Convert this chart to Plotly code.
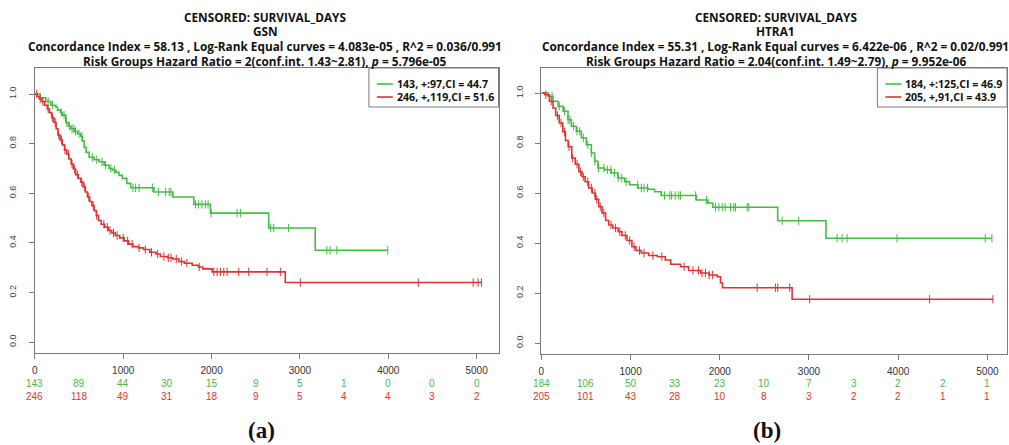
import numpy as np
import plotly.graph_objects as go

W, H = 1009, 445

# ---------------- data ----------------
# Panel (a) GSN
a_green_t = [0, 60, 124, 181, 237, 256, 290, 312, 350, 380, 407, 445, 482, 519, 538, 557, 580, 614, 670, 726,
             783, 839, 877, 915, 952, 990, 1040, 1084, 1348, 1562, 1799, 1987, 2646, 3173]
a_green_s = [1.0, 0.985, 0.97, 0.955, 0.948, 0.935, 0.925, 0.915, 0.885, 0.87, 0.86, 0.85, 0.84, 0.83, 0.81, 0.785,
             0.765, 0.745, 0.735, 0.727, 0.713, 0.70, 0.694, 0.685, 0.672, 0.66, 0.64, 0.622, 0.605, 0.585, 0.555,
             0.52, 0.46, 0.37]
a_green_end = 3994
a_green_cens = [150, 200, 300, 330, 360, 390, 420, 440, 460, 500, 530, 650, 700, 760, 800, 860, 900, 1110, 1140,
                1180, 1330, 1400, 1480, 1520, 1540, 1818, 1850, 1890, 1930, 1960, 1995, 2288, 2326, 2665, 2703,
                2872, 3305, 3342, 3418, 3994]

a_red_t = [0, 25, 50, 80, 110, 140, 165, 190, 215, 240, 260, 285, 310, 335, 360, 385, 410, 435, 460, 490, 520,
           545, 570, 595, 620, 645, 670, 695, 720, 750, 790, 830, 870, 910, 960, 1010, 1060, 1110, 1170, 1230,
           1300, 1370, 1420, 1500, 1560, 1630, 1690, 1780, 1850, 1900, 2006, 2834]
a_red_s = [1.0, 0.99, 0.98, 0.97, 0.955, 0.94, 0.925, 0.905, 0.885, 0.86, 0.835, 0.815, 0.795, 0.775, 0.757,
           0.738, 0.718, 0.698, 0.675, 0.66, 0.645, 0.626, 0.605, 0.585, 0.567, 0.55, 0.53, 0.51, 0.49, 0.475,
           0.463, 0.45, 0.44, 0.43, 0.42, 0.408, 0.395, 0.385, 0.38, 0.373, 0.362, 0.355, 0.345, 0.34, 0.335,
           0.325, 0.318, 0.31, 0.303, 0.295, 0.283, 0.24]
a_red_end = 5055
a_red_cens = [20, 60, 90, 150, 200, 230, 270, 300, 340, 380, 420, 450, 480, 530, 560, 610, 660, 700, 780, 820,
              850, 890, 930, 1000, 1050, 1100, 1180, 1250, 1320, 1390, 1460, 1510, 1540, 1600, 1660, 1720, 1860,
              2025, 2062, 2100, 2138, 2176, 2307, 2420, 2627, 2778, 3004, 4340, 4961, 5017, 5055]

# Panel (b) HTRA1
b_green_t = [0, 75, 131, 187, 243, 298, 336, 392, 448, 504, 560, 597, 634, 709, 784, 858, 933, 989, 1082, 1194,
             1269, 1343, 1735, 1866, 1921, 2649, 3190]
b_green_s = [1.0, 0.987, 0.967, 0.947, 0.927, 0.893, 0.867, 0.847, 0.82, 0.793, 0.76, 0.727, 0.70, 0.693, 0.68,
             0.66, 0.645, 0.633, 0.62, 0.615, 0.605, 0.59, 0.572, 0.56, 0.543, 0.489, 0.419]
b_green_end = 5051
b_green_cens = [120, 200, 260, 300, 320, 360, 400, 430, 470, 520, 560, 600, 640, 700, 740, 780, 820, 860, 900,
                950, 1080, 1120, 1150, 1190, 1380, 1440, 1460, 1500, 1540, 1560, 1730, 1850, 1952, 1990, 2027,
                2060, 2120, 2157, 2176, 2307, 2325, 2699, 2885, 3315, 3371, 3427, 3987, 4976, 5051]

b_red_t = [0, 40, 90, 130, 160, 200, 240, 270, 300, 340, 380, 420, 455, 490, 530, 570, 605, 642, 680, 720, 754,
           800, 860, 903, 960, 1015, 1060, 1120, 1202, 1300, 1389, 1450, 1560, 1650, 1784, 1880, 1971, 2008, 2030,
           2811]
b_red_s = [1.0, 0.993, 0.967, 0.94, 0.91, 0.88, 0.845, 0.81, 0.785, 0.74, 0.715, 0.685, 0.665, 0.645, 0.62, 0.6,
           0.575, 0.545, 0.52, 0.49, 0.472, 0.46, 0.445, 0.43, 0.41, 0.385, 0.37, 0.36, 0.35, 0.345, 0.332, 0.315,
           0.305, 0.29, 0.28, 0.272, 0.265, 0.24, 0.221, 0.175]
b_red_end = 5062
b_red_cens = [50, 110, 180, 220, 260, 310, 350, 400, 440, 470, 520, 560, 600, 620, 660, 700, 780, 830, 880, 940,
              990, 1040, 1100, 1150, 1250, 1350, 1600, 1700, 1760, 1800, 1840, 1880, 1920, 2419, 2624, 2650,
              2784, 3008, 4352, 5062]

risk_times = [0, 500, 1000, 1500, 2000, 2500, 3000, 3500, 4000, 4500, 5000]
a_green_risk = [143, 89, 44, 30, 15, 9, 5, 1, 0, 0, 0]
a_red_risk = [246, 118, 49, 31, 18, 9, 5, 4, 4, 3, 2]
b_green_risk = [184, 106, 50, 33, 23, 10, 7, 3, 2, 2, 1]
b_red_risk = [205, 101, 43, 28, 10, 8, 3, 2, 2, 1, 1]

a_legend = ["143, +:97,CI = 44.7", "246, +,119,CI = 51.6"]
b_legend = ["184, +:125,CI = 46.9", "205, +,91,CI = 43.9"]

a_title = ["CENSORED: SURVIVAL_DAYS", "GSN",
           "Concordance Index = 58.13 , Log-Rank Equal curves = 4.083e-05 , R^2 = 0.036/0.991",
           "Risk Groups Hazard Ratio = 2(conf.int. 1.43~2.81), <i>p</i> = 5.796e-05"]
b_title = ["CENSORED: SURVIVAL_DAYS", "HTRA1",
           "Concordance Index = 55.31 , Log-Rank Equal curves = 6.422e-06 , R^2 = 0.02/0.991",
           "Risk Groups Hazard Ratio = 2.04(conf.int. 1.49~2.79), <i>p</i> = 9.952e-06"]

GREEN = "#43bd43"
RED = "#dd3434"
AXC = "#7a7a7a"
TFONT = "Open Sans"

fig = go.Figure()


def px_x(p):
    return p / W


def px_y(p):
    return 1 - p / H


def add_curve(t, s, end, cens, color, xa, ya):
    t = np.asarray(t, float)
    s = np.asarray(s, float)
    xs = np.append(t, end)
    ys = np.append(s, s[-1])
    fig.add_trace(go.Scatter(x=xs, y=ys, mode="lines", line=dict(color=color, width=1.6, shape="hv"),
                             xaxis=xa, yaxis=ya, showlegend=False, hoverinfo="skip"))
    c = np.asarray(cens, float)
    idx = np.searchsorted(t, c, side="right") - 1
    fig.add_trace(go.Scatter(x=c, y=s[idx], mode="markers",
                             marker=dict(symbol="line-ns-open", size=6, color=color,
                                         line=dict(color=color, width=1)),
                             xaxis=xa, yaxis=ya, showlegend=False, hoverinfo="skip"))


add_curve(a_green_t, a_green_s, a_green_end, a_green_cens, GREEN, "x", "y")
add_curve(a_red_t, a_red_s, a_red_end, a_red_cens, RED, "x", "y")
add_curve(b_green_t, b_green_s, b_green_end, b_green_cens, GREEN, "x2", "y2")
add_curve(b_red_t, b_red_s, b_red_end, b_red_cens, RED, "x2", "y2")

panels = [
    dict(xd=[32, 497], yd=[68, 353], xr=[0, 5248], yr=[-0.044, 1.105], sfx=""),
    dict(xd=[540, 1007], yd=[68, 354], xr=[0, 5220], yr=[-0.044, 1.10], sfx="2"),
]
yt = [0, 0.2, 0.4, 0.6, 0.8, 1.0]
for p in panels:
    fig.layout["xaxis" + p["sfx"]] = dict(
        domain=[px_x(p["xd"][0]), px_x(p["xd"][1])], range=p["xr"], anchor="y" + p["sfx"],
        tickvals=[0, 1000, 2000, 3000, 4000, 5000], ticks="outside", ticklen=5, tickcolor=AXC,
        showline=True, linecolor=AXC, linewidth=1, mirror=True, showgrid=False, zeroline=False,
        tickfont=dict(family="Liberation Sans", size=10, color="#333"), ticklabelstandoff=3)
    fig.layout["yaxis" + p["sfx"]] = dict(
        domain=[px_y(p["yd"][1]), px_y(p["yd"][0])], range=p["yr"], anchor="x" + p["sfx"],
        tickvals=yt, ticktext=[f"{v:.1f}" for v in yt], tickangle=-90, ticks="outside", ticklen=5,
        tickcolor=AXC, showline=True, linecolor=AXC, linewidth=1, mirror=True, showgrid=False,
        zeroline=False, tickfont=dict(family="Liberation Sans", size=9, color="#444"), ticklabelstandoff=9)

ann = []
shapes = []
# number at risk
for xa, g, r in [("x", a_green_risk, a_red_risk), ("x2", b_green_risk, b_red_risk)]:
    for t, gv, rv in zip(risk_times, g, r):
        ann.append(dict(x=t, y=px_y(383), xref=xa, yref="paper", text=str(gv), showarrow=False,
                        font=dict(family="Liberation Sans", size=10, color=GREEN), yanchor="middle"))
        ann.append(dict(x=t, y=px_y(396), xref=xa, yref="paper", text=str(rv), showarrow=False,
                        font=dict(family="Liberation Sans", size=10, color=RED), yanchor="middle"))

# titles
for cx, lines in [(263, a_title), (775, b_title)]:
    for ly, txt in zip([16.5, 31, 46, 60.5], lines):
        ann.append(dict(x=px_x(cx), y=px_y(ly), xref="paper", yref="paper", text="<b>" + txt + "</b>",
                        showarrow=False, xanchor="center", yanchor="middle",
                        font=dict(family=TFONT, size=11.8, color="#111")))

# legends
for x0, x1, lab in [(367, 497, a_legend), (877, 1007, b_legend)]:
    shapes.append(dict(type="rect", xref="paper", yref="paper", x0=px_x(x0), x1=px_x(x1),
                       y0=px_y(107), y1=px_y(68), line=dict(color=AXC, width=1), fillcolor="white"))
    for ly, col, txt in [(84, GREEN, lab[0]), (97, RED, lab[1])]:
        shapes.append(dict(type="line", xref="paper", yref="paper", x0=px_x(x0 + 8), x1=px_x(x0 + 24),
                           y0=px_y(ly), y1=px_y(ly), line=dict(color=col, width=1.6)))
        ann.append(dict(x=px_x(x0 + 26), y=px_y(ly), xref="paper", yref="paper", text="<b>" + txt + "</b>",
                        showarrow=False, xanchor="left", yanchor="middle",
                        font=dict(family=TFONT, size=10.6, color="#111")))

# panel labels
for cx, txt in [(259, "(a)"), (766, "(b)")]:
    ann.append(dict(x=px_x(cx), y=px_y(430), xref="paper", yref="paper", text="<b>" + txt + "</b>",
                    showarrow=False, xanchor="center", yanchor="middle",
                    font=dict(family="Liberation Serif", size=23, color="#111")))

fig.update_layout(width=W, height=H, margin=dict(l=0, r=0, t=0, b=0), paper_bgcolor="white",
                  plot_bgcolor="white", annotations=ann, shapes=shapes, showlegend=False)

fig.write_html("out.html", config={"displayModeBar": False},
               post_script="document.body.style.margin='0px';document.body.style.overflow='hidden';")
